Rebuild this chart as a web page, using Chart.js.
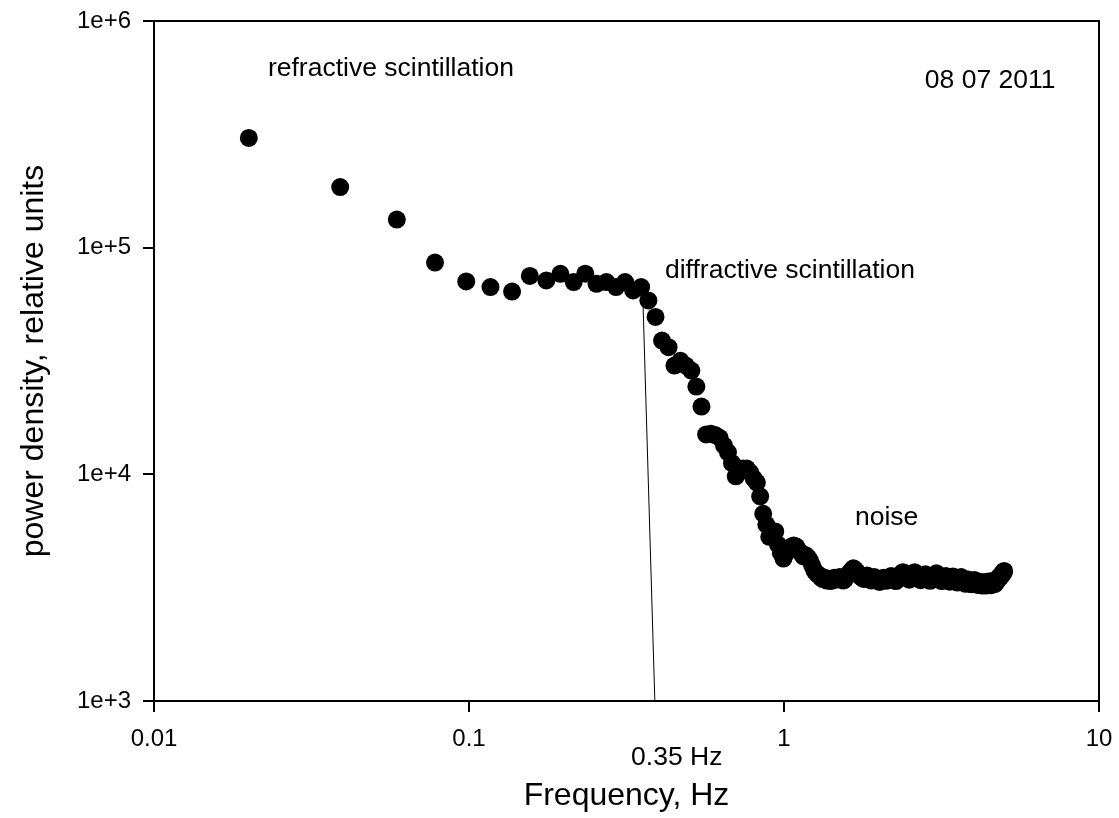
<!DOCTYPE html>
<html>
<head>
<meta charset="utf-8">
<script src="https://cdn.jsdelivr.net/npm/chart.js@4.4.1/dist/chart.umd.min.js"></script>
<style>
  html, body { margin: 0; padding: 0; background: #fff; }
  #wrap { width: 1119px; height: 818px; position: relative; }
</style>
</head>
<body>
<div id="wrap"><canvas id="chart"></canvas></div>
<script>
// spectrum bins, Hz
const freqHz = [
  0.020, 0.039, 0.059, 0.078, 0.098, 0.117, 0.137, 0.156, 0.176, 0.195,
  0.215, 0.234, 0.254, 0.273, 0.293, 0.313, 0.332, 0.352, 0.371, 0.391,
  0.410, 0.430, 0.449, 0.469, 0.488, 0.508, 0.527, 0.547, 0.566, 0.586,
  0.605, 0.625, 0.645, 0.664, 0.684, 0.703, 0.723, 0.742, 0.762, 0.781,
  0.801, 0.820, 0.840, 0.859, 0.879, 0.898, 0.918, 0.938, 0.957, 0.977,
  0.996, 1.016, 1.035, 1.055, 1.074, 1.094, 1.113, 1.133, 1.152, 1.172,
  1.191, 1.211, 1.230, 1.250, 1.270, 1.289, 1.309, 1.328, 1.348, 1.367,
  1.387, 1.406, 1.426, 1.445, 1.465, 1.484, 1.504, 1.523, 1.543, 1.563,
  1.582, 1.602, 1.621, 1.641, 1.660, 1.680, 1.699, 1.719, 1.738, 1.758,
  1.777, 1.797, 1.816, 1.836, 1.855, 1.875, 1.895, 1.914, 1.934, 1.953,
  1.973, 1.992, 2.012, 2.031, 2.051, 2.070, 2.090, 2.109, 2.129, 2.148,
  2.168, 2.188, 2.207, 2.227, 2.246, 2.266, 2.285, 2.305, 2.324, 2.344,
  2.363, 2.383, 2.402, 2.422, 2.441, 2.461, 2.480, 2.500, 2.520, 2.539,
  2.559, 2.578, 2.598, 2.617, 2.637, 2.656, 2.676, 2.695, 2.715, 2.734,
  2.754, 2.773, 2.793, 2.813, 2.832, 2.852, 2.871, 2.891, 2.910, 2.930,
  2.949, 2.969, 2.988, 3.008, 3.027, 3.047, 3.066, 3.086, 3.105, 3.125,
  3.145, 3.164, 3.184, 3.203, 3.223, 3.242, 3.262, 3.281, 3.301, 3.320,
  3.340, 3.359, 3.379, 3.398, 3.418, 3.438, 3.457, 3.477, 3.496, 3.516,
  3.535, 3.555, 3.574, 3.594, 3.613, 3.633, 3.652, 3.672, 3.691, 3.711,
  3.730, 3.750, 3.770, 3.789, 3.809, 3.828, 3.848, 3.867, 3.887, 3.906,
  3.926, 3.945, 3.965, 3.984, 4.004, 4.023, 4.043, 4.063, 4.082, 4.102,
  4.121, 4.141, 4.160, 4.180, 4.199, 4.219, 4.238, 4.258, 4.277, 4.297,
  4.316, 4.336, 4.355, 4.375, 4.395, 4.414, 4.434, 4.453, 4.473, 4.492,
  4.512, 4.531, 4.551, 4.570, 4.590, 4.609, 4.629, 4.648, 4.668, 4.688,
  4.707, 4.727, 4.746, 4.766, 4.785, 4.805, 4.824, 4.844, 4.863, 4.883,
  4.902, 4.922, 4.941, 4.961, 4.980, 5.000
]

// power density, relative units
const powerDensity = [
  305000, 185000, 133000, 86000, 71000, 67000, 64000, 75000, 71700, 76700,
  70500, 76800, 69300, 70500, 67000, 70500, 64800, 67000, 58500, 49500,
  38900, 36400, 30200, 31700, 30200, 28700, 24400, 19900, 15000, 15100,
  14900, 14500, 13400, 12500, 11200, 9800, 10400, 10600, 10600, 10200,
  9600, 9200, 8000, 6700, 6000, 5300, 5450, 5600, 4900, 4500,
  4250, 4500, 4700, 4800, 4850, 4800, 4600, 4500, 4350, 4400,
  4300, 4150, 3950, 3750, 3650, 3600, 3500, 3450, 3500, 3400,
  3420, 3380, 3450, 3500, 3430, 3480, 3520, 3460, 3400, 3450,
  3550, 3620, 3700, 3780, 3850, 3800, 3720, 3650, 3580, 3520,
  3480, 3450, 3520, 3580, 3500, 3430, 3400, 3460, 3520, 3480,
  3420, 3380, 3350, 3400, 3460, 3500, 3440, 3390, 3420, 3470,
  3520, 3560, 3500, 3450, 3400, 3380, 3420, 3480, 3530, 3600,
  3650, 3700, 3680, 3620, 3560, 3500, 3460, 3430, 3470, 3520,
  3580, 3640, 3700, 3660, 3600, 3540, 3480, 3440, 3410, 3450,
  3500, 3540, 3580, 3620, 3580, 3520, 3470, 3420, 3390, 3420,
  3460, 3500, 3540, 3580, 3620, 3660, 3620, 3560, 3500, 3450,
  3420, 3380, 3400, 3440, 3480, 3520, 3560, 3530, 3480, 3430,
  3390, 3360, 3400, 3450, 3500, 3540, 3500, 3460, 3420, 3380,
  3350, 3330, 3360, 3400, 3440, 3480, 3520, 3480, 3430, 3390,
  3350, 3320, 3290, 3320, 3360, 3400, 3440, 3400, 3360, 3320,
  3290, 3270, 3300, 3340, 3380, 3420, 3380, 3340, 3300, 3270,
  3250, 3280, 3320, 3360, 3320, 3280, 3250, 3230, 3260, 3300,
  3340, 3300, 3260, 3230, 3250, 3290, 3330, 3370, 3330, 3290,
  3260, 3240, 3270, 3310, 3350, 3390, 3350, 3310, 3280, 3300,
  3340, 3380, 3420, 3460, 3430, 3480, 3520, 3560, 3520, 3580,
  3620, 3600, 3650, 3700, 3680, 3750
]

// thin line marking the 0.35 Hz break
const cutoffX = [0.357, 0.389]
const cutoffY = [55600, 1000]

const xTickValues = [0.01, 0.1, 1, 10]
const xTickLabels = ['0.01', '0.1', '1', '10']
const yTickValues = [1e3, 1e4, 1e5, 1e6]
const yTickLabels = ['1e+3', '1e+4', '1e+5', '1e+6']

const noteTexts = ['refractive scintillation', '08 07 2011', 'diffractive scintillation', 'noise', '0.35 Hz']
const noteX = [0.023, 2.8, 0.419, 1.68, 0.327]
const noteY = [614000, 548000, 79400, 6430, 565]

const FONT = "'Liberation Sans', Arial, Helvetica, sans-serif"

const points = freqHz.map((f, i) => ({ x: f, y: powerDensity[i] }))
const cutoff = cutoffX.map((x, i) => ({ x: x, y: cutoffY[i] }))

// top and right sides of the frame + text notes
const framePlugin = {
    id: 'frame',
    afterDatasetsDraw(chart) {
        const { ctx, chartArea: a, scales } = chart
        ctx.save()
        ctx.strokeStyle = '#000'
        ctx.lineWidth = 2
        ctx.beginPath()
        ctx.moveTo(a.left, a.top)
        ctx.lineTo(a.right, a.top)
        ctx.lineTo(a.right, a.bottom)
        ctx.stroke()

        ctx.fillStyle = '#000'
        ctx.textAlign = 'left'
        ctx.textBaseline = 'middle'
        ctx.font = '26.5px ' + FONT
        noteTexts.forEach((t, i) => {
            ctx.fillText(t, scales.x.getPixelForValue(noteX[i]), scales.y.getPixelForValue(noteY[i]))
        })
        ctx.restore()
    }
}

new Chart(document.getElementById('chart').getContext('2d'), {
    type: 'scatter',
    data: {
        datasets: [
            {
                data: points,
                backgroundColor: '#000',
                borderColor: '#000',
                borderWidth: 0,
                pointRadius: 9,
                pointHoverRadius: 9,
                order: 1,
            },
            {
                data: cutoff,
                showLine: true,
                borderColor: '#000',
                borderWidth: 1,
                pointRadius: 0,
                order: 2,
            },
        ],
    },
    options: {
        responsive: true,
        maintainAspectRatio: false,
        animation: false,
        events: [],
        layout: { padding: { left: 0, right: 20, top: 21, bottom: 0 } },
        plugins: {
            legend: { display: false },
            tooltip: { enabled: false },
        },
        scales: {
            x: {
                type: 'logarithmic',
                min: 0.01,
                max: 10,
                afterBuildTicks: (s) => { s.ticks = xTickValues.map((v) => ({ value: v })) },
                afterFit: (s) => {
                    s.height = 117
                    s.paddingLeft = 0
                    s.paddingRight = 0
                },
                border: { display: true, color: '#000', width: 2 },
                grid: { drawOnChartArea: false, drawTicks: true, tickLength: 11, color: '#000', lineWidth: 2 },
                ticks: {
                    color: '#000',
                    font: { family: FONT, size: 24 },
                    padding: 13,
                    maxRotation: 0,
                    autoSkip: false,
                    callback: (v, i) => xTickLabels[i],
                },
                title: {
                    display: true,
                    text: 'Frequency, Hz',
                    color: '#000',
                    font: { family: FONT, size: 32 },
                    padding: { top: 0, bottom: 3 },
                },
            },
            y: {
                type: 'logarithmic',
                min: 1000,
                max: 1e6,
                afterBuildTicks: (s) => { s.ticks = yTickValues.map((v) => ({ value: v })) },
                afterFit: (s) => {
                    s.width = 154
                    s.paddingTop = 0
                    s.paddingBottom = 0
                },
                border: { display: true, color: '#000', width: 2 },
                grid: { drawOnChartArea: false, drawTicks: true, tickLength: 11, color: '#000', lineWidth: 2 },
                ticks: {
                    color: '#000',
                    font: { family: FONT, size: 24 },
                    padding: 12,
                    autoSkip: false,
                    callback: (v, i) => yTickLabels[i],
                },
                title: {
                    display: true,
                    text: 'power density, relative units',
                    color: '#000',
                    font: { family: FONT, size: 32 },
                    padding: { top: 15, bottom: 0 },
                },
            },
        },
    },
    plugins: [framePlugin],
})
</script>
</body>
</html>
